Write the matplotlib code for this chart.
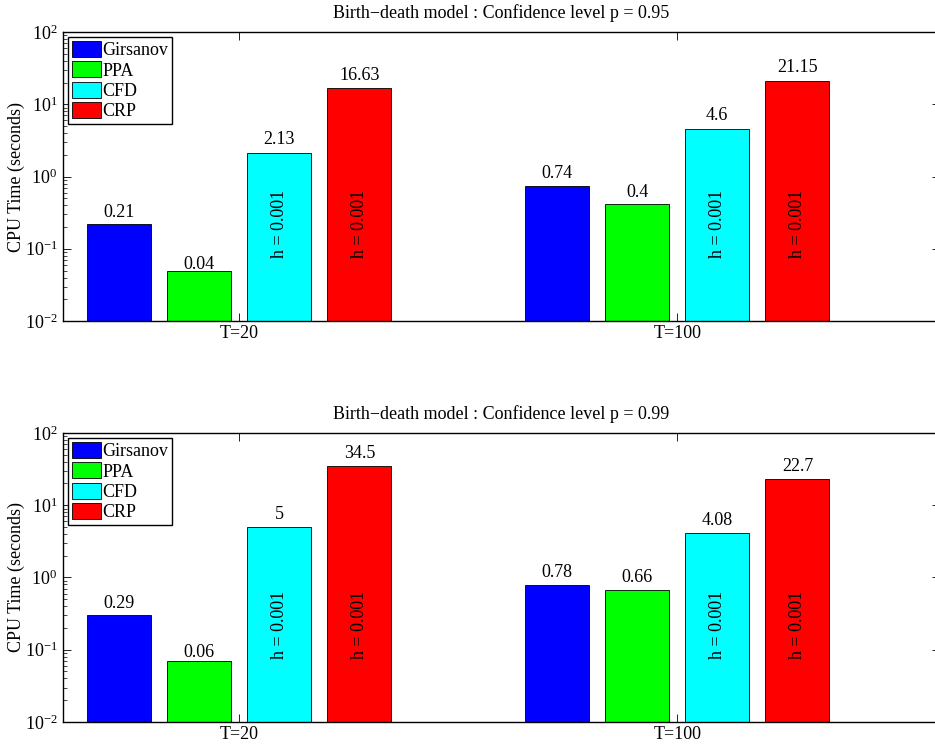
import matplotlib
matplotlib.use("Agg")
import matplotlib.pyplot as plt
from matplotlib.ticker import FixedLocator, LogLocator
import numpy as np

plt.rcParams['font.family'] = ['Liberation Serif', 'DejaVu Serif']
plt.rcParams['mathtext.fontset'] = 'stix'

groups = ['T=20', 'T=100']
methods = ['Girsanov', 'PPA', 'CFD', 'CRP']
colors = ['#0000ff', '#00ff00', '#00ffff', '#ff0000']

times_95 = {
    'Girsanov': [0.21, 0.74],
    'PPA': [0.04, 0.4],
    'CFD': [2.13, 4.6],
    'CRP': [16.63, 21.15],
}
labels_95 = {
    'Girsanov': ['0.21', '0.74'],
    'PPA': ['0.04', '0.4'],
    'CFD': ['2.13', '4.6'],
    'CRP': ['16.63', '21.15'],
}

times_99 = {
    'Girsanov': [0.29, 0.78],
    'PPA': [0.06, 0.66],
    'CFD': [5, 4.08],
    'CRP': [34.5, 22.7],
}
labels_99 = {
    'Girsanov': ['0.29', '0.78'],
    'PPA': ['0.06', '0.66'],
    'CFD': ['5', '4.08'],
    'CRP': ['34.5', '22.7'],
}

step_note = 'h = 0.001'
step_methods = ['CFD', 'CRP']

fig = plt.figure(figsize=(9.35, 7.46), dpi=100)
ax_top = fig.add_axes([0.0674, 0.5697, 0.938, 0.3874])
ax_bot = fig.add_axes([0.0674, 0.0322, 0.938, 0.3874])

width = 0.146
spacing = 0.183
x = np.arange(1, len(groups) + 1)
fs = 13


def draw(ax, times, labels, p):
    for i, m in enumerate(methods):
        pos = x + (i - 1.5) * spacing
        ax.bar(pos, times[m], width, bottom=0.01, color=colors[i],
               edgecolor='black', linewidth=0.6, label=m)
        for xp, v, lab in zip(pos, times[m], labels[m]):
            ax.text(xp, v * 1.15, lab, ha='center', va='bottom', fontsize=fs)
            if m in step_methods:
                ax.text(xp, 0.22, step_note, ha='center', va='center',
                        rotation=90, fontsize=fs)

    ax.set_yscale('log')
    ax.set_ylim(0.01, 100)
    ax.set_xlim(0.598, 2.600)
    ax.xaxis.set_major_locator(FixedLocator(x))
    ax.set_xticklabels(groups)
    ax.yaxis.set_major_locator(LogLocator(base=10, numticks=10))
    ax.yaxis.set_minor_locator(LogLocator(base=10, subs=np.arange(2, 10), numticks=10))
    ax.tick_params(which='both', direction='in', top=True, right=True, labelsize=fs)
    ax.tick_params(which='major', length=5.8, width=0.6)
    ax.tick_params(which='minor', length=3, width=0.5)
    ax.tick_params(axis='x', pad=3)
    ax.tick_params(axis='y', pad=4)
    for s in ax.spines.values():
        s.set_linewidth(1.0)
    ax.set_ylabel('CPU Time (seconds)', fontsize=fs)
    ax.yaxis.set_label_coords(-0.043, 0.5)
    ax.set_title(f'Birth\u2212death model : Confidence level p = {p}', fontsize=fs, pad=10)

    leg = ax.legend(loc='upper left', fontsize=fs, fancybox=False, framealpha=1,
                    edgecolor='black', handlelength=1.6, handleheight=1.0,
                    handletextpad=0.1, labelspacing=0.11, borderpad=0.2,
                    borderaxespad=0.3)
    leg.get_frame().set_linewidth(1.0)


draw(ax_top, times_95, labels_95, 0.95)
draw(ax_bot, times_99, labels_99, 0.99)

fig.savefig('out.png', dpi=100)
